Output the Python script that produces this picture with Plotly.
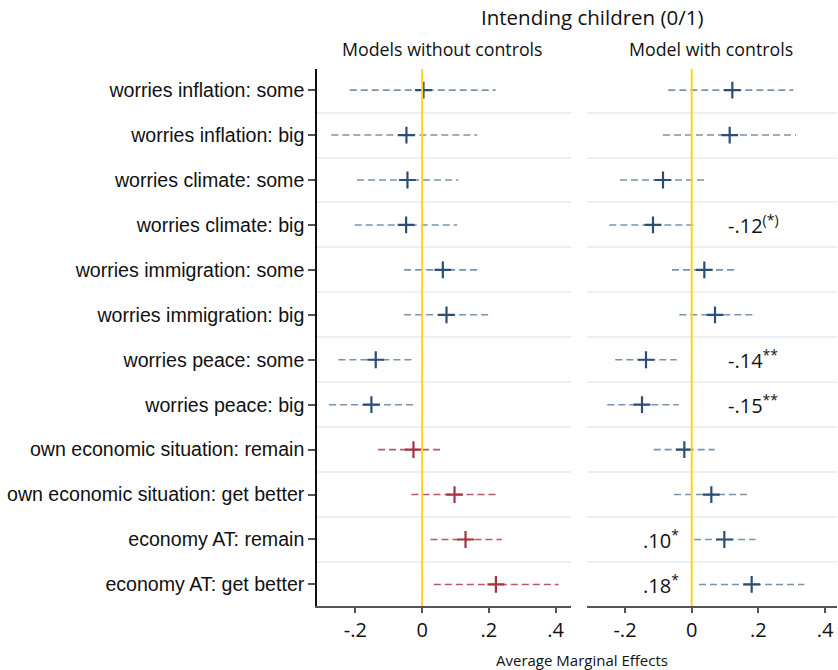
import plotly.graph_objects as go

labels = [
    "worries inflation: some", "worries inflation: big",
    "worries climate: some", "worries climate: big",
    "worries immigration: some", "worries immigration: big",
    "worries peace: some", "worries peace: big",
    "own economic situation: remain", "own economic situation: get better",
    "economy AT: remain", "economy AT: get better",
]
rows = list(range(1, 13))

# Models without controls
left_est = [0.004, -0.047, -0.044, -0.048, 0.062, 0.073, -0.139, -0.152, -0.026, 0.097, 0.130, 0.221]
left_lo = [-0.217, -0.272, -0.195, -0.202, -0.054, -0.054, -0.251, -0.279, -0.132, -0.032, 0.025, 0.035]
left_hi = [0.220, 0.165, 0.108, 0.105, 0.173, 0.203, -0.027, -0.021, 0.065, 0.225, 0.239, 0.409]
left_group = ["blue"] * 8 + ["red"] * 4

# Model with controls
right_est = [0.122, 0.114, -0.086, -0.116, 0.038, 0.070, -0.137, -0.149, -0.022, 0.059, 0.098, 0.180]
right_lo = [-0.070, -0.086, -0.215, -0.247, -0.059, -0.037, -0.229, -0.253, -0.114, -0.053, 0.007, 0.022]
right_hi = [0.305, 0.313, 0.041, 0.008, 0.137, 0.183, -0.045, -0.039, 0.069, 0.172, 0.192, 0.338]

# significance annotations (row, x, text)
ann_rows = [4, 7, 8, 11, 12]
ann_x = [0.104, 0.104, 0.104, -0.152, -0.152]
ann_text = ["-.12<sup>(*)</sup>", "-.14<sup>**</sup>", "-.15<sup>**</sup>", ".10<sup>*</sup>", ".18<sup>*</sup>"]

xtick_vals = [-0.2, 0, 0.2, 0.4]
xtick_text = ["-.2", "0", ".2", ".4"]

colors = {
    "blue": dict(pt="#2a4e74", ci="#7a93ad"),
    "red": dict(pt="#a3343f", ci="#b65a63"),
}

fig = go.Figure()

def add_panel(est, lo, hi, groups, xa, ya):
    for i, r in enumerate(rows):
        c = colors[groups[i]]
        fig.add_trace(go.Scatter(
            x=[lo[i], hi[i]], y=[r, r], mode="lines",
            line=dict(color=c["ci"], width=1.6, dash="7px,4px"),
            xaxis=xa, yaxis=ya, showlegend=False, hoverinfo="skip"))
    for g in ["blue", "red"]:
        idx = [i for i in range(len(rows)) if groups[i] == g]
        if not idx:
            continue
        fig.add_trace(go.Scatter(
            x=[est[i] for i in idx], y=[rows[i] for i in idx], mode="markers",
            marker=dict(symbol="cross-thin", size=12,
                        line=dict(color=colors[g]["pt"], width=2.2)),
            xaxis=xa, yaxis=ya, showlegend=False))

add_panel(left_est, left_lo, left_hi, left_group, "x", "y")
add_panel(right_est, right_lo, right_hi, ["blue"] * 12, "x2", "y2")

grid_vals = [r + 0.5 for r in rows[:-1]]
yrange = [12.48, 0.53]
tickfont = dict(family="Open Sans", size=20, color="#111")

fig.update_layout(
    width=838, height=670,
    margin=dict(l=317, r=1, t=69, b=64, autoexpand=False),
    paper_bgcolor="white", plot_bgcolor="white",
    xaxis=dict(domain=[0, 254 / 520], range=[-0.315, 0.446],
               tickvals=xtick_vals, ticktext=xtick_text, ticks="outside",
               ticklen=5, tickwidth=1.5, tickcolor="#555", tickfont=tickfont,
               showline=True, linecolor="#555", linewidth=2, showgrid=False,
               zeroline=False, anchor="y", automargin=False),
    xaxis2=dict(domain=[270 / 520, 1], range=[-0.314, 0.436],
                tickvals=xtick_vals, ticktext=xtick_text, ticks="outside",
                ticklen=5, tickwidth=1.5, tickcolor="#555", tickfont=tickfont,
                showline=True, linecolor="#555", linewidth=2, showgrid=False,
                zeroline=False, anchor="y2", automargin=False),
    yaxis=dict(range=yrange, tickvals=rows, ticktext=labels, ticks="outside",
               ticklen=7, tickwidth=1.5, tickcolor="#555",
               tickfont=dict(family="Liberation Sans", size=19.6, color="#111"),
               showline=True, linecolor="#111", linewidth=1.5, showgrid=False,
               zeroline=False, anchor="x", automargin=False,
               minor=dict(tickvals=grid_vals, showgrid=True, gridcolor="#eaf0f4",
                          gridwidth=2, ticks="")),
    yaxis2=dict(range=yrange, tickvals=rows, showticklabels=False, ticks="",
                showline=False, showgrid=False, zeroline=False, anchor="x2",
                minor=dict(tickvals=grid_vals, showgrid=True, gridcolor="#eaf0f4",
                           gridwidth=2, ticks="")),
)

for xa, ya in [("x", "y"), ("x2", "y2")]:
    fig.add_shape(type="line", x0=0, x1=0, y0=0, y1=1, xref=xa, yref=ya + " domain",
                  line=dict(color="#FFD21F", width=2), layer="above")

for r, x, t in zip(ann_rows, ann_x, ann_text):
    fig.add_annotation(x=x, y=r, xref="x2", yref="y2", text=t, showarrow=False,
                       xanchor="left", yanchor="middle",
                       font=dict(family="Open Sans", size=20, color="#111"))

def px(xp, yp):
    pw, ph = 520, 537
    return (xp - 317) / pw, (670 - 64 - yp) / ph

for txt, xp, yp, sz in [("Intending children (0/1)", 592, 17, 20.5),
                        ("Models without controls", 442, 49, 17.8),
                        ("Model with controls", 711, 49, 17.8),
                        ("Average Marginal Effects", 582, 660, 15)]:
    xx, yy = px(xp, yp)
    fig.add_annotation(x=xx, y=yy, xref="paper", yref="paper", text=txt,
                       showarrow=False, xanchor="center", yanchor="middle",
                       font=dict(family="Open Sans", size=sz, color="#111"))

fig.write_html("out.html", config={"displayModeBar": False},
               post_script="document.body.style.margin='0';document.body.style.padding='0';")
